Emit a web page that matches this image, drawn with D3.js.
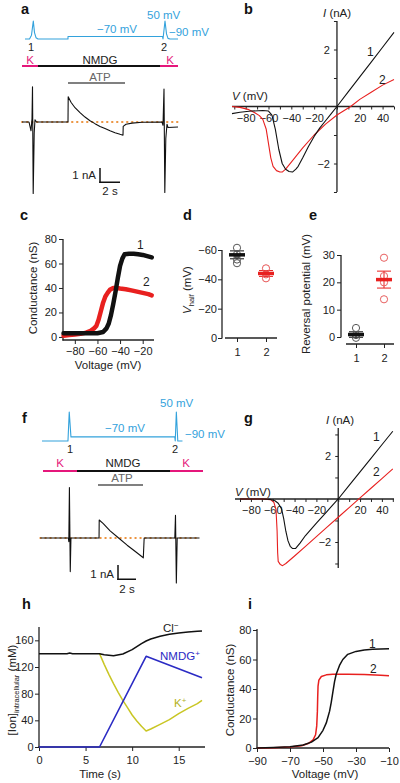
<!DOCTYPE html>
<html><head><meta charset="utf-8">
<script src="https://cdn.jsdelivr.net/npm/d3@7"></script>
<style>body{margin:0;background:#fff} svg{display:block;font-family:"Liberation Sans",Arial,sans-serif}</style>
</head><body><script>
// ---------- DATA ----------
// panel a: voltage protocol [time s, mV] and current [time s, nA]
const traceA_V = [[0.3,-90],[0.75,-90],[0.95,-60],[1.13,50],[1.25,-40],[1.4,-80],[1.6,-90],[4.6,-90],[4.6,-70],[14.05,-70],[14.1,-90],[14.3,50],[14.45,-50],[14.6,-85],[14.8,-90],[15.6,-90]];
const traceA_I = [[0,0],[0.7,0],[0.8,-0.4],[0.9,-0.8],[1.0,0.3],[1.05,3.2],[1.12,-6.5],[1.22,-1.0],[1.3,0.2],[1.45,0],[4.6,0],[4.62,2.3],[4.9,1.8],[5.3,1.3],[5.8,0.85],[6.3,0.45],[6.8,0.12],[7.3,-0.15],[7.8,-0.4],[8.3,-0.6],[8.8,-0.8],[9.3,-0.97],[9.8,-1.12],[10.1,-1.2],[10.12,-0.4],[10.4,-0.2],[11,-0.1],[12,-0.02],[14.0,0],[14.1,-0.3],[14.2,3.0],[14.28,-6.4],[14.38,-1.5],[14.5,-0.2],[14.6,-0.5],[15.6,-0.45]];
// panel f
const traceF_V = [[0,-90],[3.05,-90],[3.2,50],[3.4,-70],[15.6,-70],[15.65,-90],[15.78,50],[15.95,-90],[16.5,-90]];
const traceF_I = [[-0.2,0],[3.1,0],[3.15,-0.3],[3.22,4.2],[3.32,-2.8],[3.4,0],[6.7,0],[6.72,1.5],[7.2,1.2],[8,0.6],[9,0.0],[10,-0.6],[11,-1.15],[11.9,-1.65],[12.0,0],[15.6,0],[15.68,1.9],[15.78,-3.75],[15.88,0],[18.5,0]];
// panel b: I-V [mV, nA]
const ivB_1 = [[-92,-0.25],[-85,-0.2],[-75,-0.16],[-65,-0.14],[-60,-0.16],[-57,-0.3],[-54,-0.8],[-51,-1.5],[-48,-2.0],[-45,-2.2],[-42,-2.28],[-39,-2.3],[-36,-2.2],[-34,-2.1],[-30,-1.8],[-25,-1.4],[-20,-1.05],[-15,-0.75],[-10,-0.5],[-5,-0.25],[0,0],[10,0.52],[20,1.04],[30,1.56],[40,2.08],[50,2.6]];
const ivB_2 = [[-92,0],[-85,-0.03],[-78,-0.1],[-72,-0.22],[-68,-0.32],[-65,-0.45],[-62,-0.8],[-60,-1.3],[-58,-1.8],[-56,-2.1],[-53,-2.25],[-50,-2.3],[-48,-2.3],[-45,-2.2],[-40,-1.95],[-30,-1.45],[-20,-1.0],[-10,-0.62],[0,-0.3],[12,0],[20,0.25],[30,0.5],[40,0.75],[50,0.95]];
const bTickLabels = [-80,-60,-40,-20,20,40];
// panel g: I-V model
const ivG_1 = [[-90,0],[-70,0],[-62,-0.02],[-58,-0.08],[-55,-0.2],[-52,-0.45],[-50,-0.9],[-48,-1.5],[-46,-1.95],[-44,-2.2],[-42,-2.3],[-39,-2.3],[-35,-2.05],[-30,-1.7],[-20,-1.12],[-10,-0.56],[0,0],[10,0.63],[20,1.26],[30,1.89],[40,2.52],[50,3.15]];
const ivG_2 = [[-90,0],[-70,0],[-62,-0.03],[-59,-0.15],[-57,-0.5],[-56,-1.5],[-55.5,-2.5],[-55,-2.9],[-53,-3.05],[-51,-3.1],[-48,-3.0],[-40,-2.65],[-30,-2.2],[-20,-1.75],[-10,-1.3],[0,-0.85],[10,-0.4],[20,0.05],[30,0.5],[40,0.95],[50,1.4]];
// panel c: conductance [mV, nS]
const gC_1 = [[-90,3],[-80,3],[-70,3],[-60,3],[-55,4],[-52,7],[-50,11],[-48,18],[-46,27],[-44,37],[-42,48],[-40,58],[-38,64],[-36,67.5],[-32,68],[-28,68],[-24,67.5],[-20,67],[-16,66],[-12,65]];
const gC_2 = [[-90,1],[-85,1.5],[-80,2],[-75,2.5],[-70,3.5],[-66,5],[-63,7],[-61,9],[-59,14],[-57,21],[-55,28],[-53,33],[-51,36],[-49,38.5],[-46,40],[-43,40],[-40,39.5],[-35,39],[-30,38],[-25,37],[-20,36],[-15,35],[-12,34]];
// panel d: V_half (mV)
const groups = ["1","2"];
const vhalf_1 = [-61.5,-57,-53.5,-51];
const vhalf_2 = [-47.5,-43.4,-40.7];
const vhalfMean = [-56.7,-44];
const vhalfSem = [2.7,2];
// panel e: reversal potential (mV)
const erev_1 = [3.3,0.7,-0.3];
const erev_2 = [29,22.3,20,13.8];
const erevMean = [0.9,21];
const erevSem = [1,3.1];
// panel h: [time s, mM]
const hCl = [[0,140],[3,140],[3.3,141],[3.6,140],[6.5,140],[7,138.5],[8,137],[9,139.5],[10,146],[11,155],[11.5,159],[12,162],[13,166],[14,169],[15,171],[16,172.5],[17,173.5],[17.5,174]];
const hNMDG = [[0,0],[6.5,0],[11.5,136],[17.5,104]];
const hK = [[6.5,140],[7,124],[7.5,109],[8,95],[8.5,82],[9,70],[9.5,59],[10,48],[10.5,39],[11,31],[11.5,24],[12,27],[13,34],[14,41],[15,50],[16,58],[17,65],[17.5,70]];
// panel i: model conductance [mV, nS]
const gI_1 = [[-90,0],[-80,0.3],[-70,0.8],[-62,2],[-57,4],[-53,7],[-50,12],[-48,17],[-46,25],[-45,31],[-44,38],[-43,45],[-42,50],[-40,56],[-38,60],[-35,63.5],[-30,65.5],[-25,66.5],[-20,67],[-10,67.3]];
const gI_2 = [[-90,0],[-80,0.2],[-70,0.6],[-63,1.5],[-59,3],[-56,5.5],[-54.5,9],[-53.8,15],[-53.4,25],[-53.2,35],[-53,42],[-52.5,46],[-51,48.5],[-48,49.6],[-44,50],[-35,50],[-25,49.8],[-15,49.3],[-10,49]];

// ---------- STYLE ----------
const BLUE="#33a2dc", MAG="#e5177b", ORANGE="#ec9440", RED="#e8201f", DARK="#222", GRAY="#808080";
const NBLUE="#2b2bc4", YEL="#c9c624";
const FONT='"Liberation Sans",Arial,sans-serif';

const svg = d3.select("body").append("svg").attr("width",400).attr("height",783);
svg.append("rect").attr("width",400).attr("height",783).attr("fill","#fff");

function txt(x,y,s,o={}){
  return svg.append("text").attr("x",x).attr("y",y).text(s)
    .attr("font-size",o.size||11.5).attr("fill",o.fill||DARK)
    .attr("text-anchor",o.anchor||"start").attr("font-weight",o.weight||"normal")
    .attr("font-style",o.style||"normal").attr("font-family",FONT);
}
function hline(x1,x2,y,color,w,dash){
  const l=svg.append("line").attr("x1",x1).attr("x2",x2).attr("y1",y).attr("y2",y).attr("stroke",color).attr("stroke-width",w||1.2);
  if(dash) l.attr("stroke-dasharray",dash).attr("stroke-linecap","round");
  return l;
}
function vline(x,y1,y2,color,w){
  return svg.append("line").attr("x1",x).attr("x2",x).attr("y1",y1).attr("y2",y2).attr("stroke",color).attr("stroke-width",w||1.2);
}
function path(data,x,y,color,w,extra){
  const p=svg.append("path").attr("d",d3.line().x(d=>x(d[0])).y(d=>y(d[1]))(data))
    .attr("fill","none").attr("stroke",color).attr("stroke-width",w||1).attr("stroke-linejoin","round");
  if(extra) p.attr("stroke-linecap","round");
  return p;
}
function styleAxis(g){
  g.attr("font-family",FONT).attr("font-size",11);
  g.select(".domain").remove();
  g.selectAll(".tick line").attr("stroke",DARK).attr("stroke-width",1);
  g.selectAll(".tick text").attr("fill",DARK);
}
function rotLabel(x,y,s){
  return svg.append("text").attr("transform",`translate(${x},${y}) rotate(-90)`)
    .attr("text-anchor","middle").attr("font-size",11.5).attr("fill",DARK).attr("font-family",FONT).text(s);
}
const fmt = d3.format("d");

// panel letters
[["a",21,14],["b",244,14],["c",20,220],["d",183,220],["e",309,220],["f",22,423],["g",244,423],["h",22,609],["i",248,609]]
  .forEach(([s,x,y])=>txt(x,y,s,{size:14.5,weight:"bold",fill:"#111"}));

// ---------- PANEL A ----------
{
  const x = d3.scaleLinear([0,15.6],[22,178]);
  const yV = d3.scaleLinear([-90,50],[39,21]);
  const yI = d3.scaleLinear([0,1],[122,111]);
  path(traceA_V,x,yV,BLUE,1.1);
  txt(147,19,"50 mV",{fill:BLUE});
  txt(97,33,"\u221270 mV",{fill:BLUE});
  txt(169,36,"\u221290 mV",{fill:BLUE});
  txt(31,51,"1",{anchor:"middle",size:11}); txt(164,51,"2",{anchor:"middle",size:11});
  hline(22,38,66,MAG,2); hline(38,160,66,"#111",2); hline(160,178,66,MAG,2);
  txt(30,64,"K",{fill:MAG,anchor:"middle"}); txt(100,64,"NMDG",{anchor:"middle"}); txt(170,64,"K",{fill:MAG,anchor:"middle"});
  hline(68,125,83,GRAY,2); txt(100,81,"ATP",{fill:"#666",anchor:"middle"});
  hline(x(0),x(15.6),yI(0),ORANGE,2,"0.5,4.5");
  path(traceA_I,x,yI,"#111",1.1);
  // scale bar
  vline(100,168,183,"#111",1.5); hline(99.25,120,182.25,"#111",1.5);
  txt(96,179,"1 nA",{anchor:"end"}); txt(110,195,"2 s",{anchor:"middle"});
}

// ---------- PANEL F ----------
{
  const x = d3.scaleLinear([0,18.5],[42,199.5]);
  const yV = d3.scaleLinear([-90,50],[441,412]);
  const yI = d3.scaleLinear([0,1],[538,526]);
  path(traceF_V,x,yV,BLUE,1.1);
  txt(160,407,"50 mV",{fill:BLUE});
  txt(105,432,"\u221270 mV",{fill:BLUE});
  txt(185,438,"\u221290 mV",{fill:BLUE});
  txt(70,453,"1",{anchor:"middle",size:11}); txt(175,453,"2",{anchor:"middle",size:11});
  hline(43,77,471,MAG,2); hline(77,170,471,"#111",2); hline(170,203,471,MAG,2);
  txt(60,467,"K",{fill:MAG,anchor:"middle"}); txt(123,467,"NMDG",{anchor:"middle"}); txt(186,467,"K",{fill:MAG,anchor:"middle"});
  hline(98,143,485,GRAY,2); txt(122,482,"ATP",{fill:"#666",anchor:"middle"});
  hline(x(-0.2),x(18.5),yI(0),ORANGE,2,"0.5,4.5");
  path(traceF_I,x,yI,"#111",1.1);
  vline(118,565,580,"#111",1.5); hline(117.25,136,579.25,"#111",1.5);
  txt(114,578,"1 nA",{anchor:"end"}); txt(127,593,"2 s",{anchor:"middle"});
}

// ---------- I-V panels (b, g) ----------
function ivPanel(xs, ys, xl, yl, c1, c2, lab1, lab2, ttl){
  const x0 = xs(0), y0 = ys(0);
  hline(xl[0],xl[1],y0,DARK,1.3); vline(x0,yl[0],yl[1],DARK,1.3);
  const gx = svg.append("g").attr("transform",`translate(0,${y0})`)
    .call(d3.axisBottom(xs).tickValues(d3.range(-90,51,10)).tickSize(3).tickPadding(4.5)
      .tickFormat(d=>bTickLabels.includes(d)?fmt(d):""));
  styleAxis(gx);
  const gy = svg.append("g").attr("transform",`translate(${x0},0)`)
    .call(d3.axisLeft(ys).tickValues([-3,-2,-1,1,2,3]).tickSize(3).tickPadding(4)
      .tickFormat(d=>(d===2||d===-2)?fmt(d):""));
  styleAxis(gy);
  path(c2,xs,ys,RED,1.1);
  path(c1,xs,ys,"#111",1.1);
  txt(lab1[0],lab1[1],"1",{size:12}); txt(lab2[0],lab2[1],"2",{size:12});
  const t1 = txt(ttl[0],ttl[1],"",{}); t1.append("tspan").attr("font-style","italic").text("I"); t1.append("tspan").text(" (nA)");
  const t2 = txt(ttl[2],ttl[3],"",{}); t2.append("tspan").attr("font-style","italic").text("V"); t2.append("tspan").text(" (mV)");
}
ivPanel(d3.scaleLinear([-92,50],[232,394]), d3.scaleLinear([-3,3],[192,21]), [232,394],[21,192],
  ivB_1, ivB_2, [367,56],[379,84],[323,17,232,100]);
ivPanel(d3.scaleLinear([-90,50],[240,392.8]), d3.scaleLinear([-3.2,3.3],[567.8,428]), [235,394],[428,568],
  ivG_1, ivG_2, [373,441],[373,476],[326,424,235,496]);

// ---------- PANEL C ----------
{
  const x = d3.scaleLinear([-90,-10],[63.5,154]);
  const y = d3.scaleLinear([-2.5,80],[340,239]);
  vline(63,239,340.6,DARK,1.3); hline(62.4,154,340,DARK,1.3);
  styleAxis(svg.append("g").attr("transform","translate(63,0)").call(d3.axisLeft(y).tickValues([0,20,40,60,80]).tickSize(4).tickPadding(2)));
  styleAxis(svg.append("g").attr("transform","translate(0,340)").call(d3.axisBottom(x).tickValues([-80,-60,-40,-20]).tickSize(4).tickPadding(3.5)));
  path(gC_2,x,y,RED,4.5,true);
  path(gC_1,x,y,"#111",4.5,true);
  txt(137,249,"1",{size:12}); txt(143,286,"2",{size:12});
  txt(108,369,"Voltage (mV)",{anchor:"middle"});
  rotLabel(37,288,"Conductance (nS)");
}

// ---------- scatter panels (d, e) ----------
function dotPanel(x, y, vals, means, sems, colors, circColors){
  vals.forEach((arr,i)=>{
    const cx = x(groups[i]);
    vline(cx,y(means[i]-sems[i]),y(means[i]+sems[i]),colors[i],1);
    hline(cx-7,cx+7,y(means[i]-sems[i]),colors[i],1);
    hline(cx-7,cx+7,y(means[i]+sems[i]),colors[i],1);
    svg.selectAll(null).data(arr).enter().append("circle")
      .attr("cx",cx).attr("cy",d=>y(d)).attr("r",3.6)
      .attr("fill","none").attr("stroke",circColors[i]).attr("stroke-width",1);
    hline(cx-8,cx+8,y(means[i]),colors[i],3.5);
  });
}
{
  const y = d3.scaleLinear([0,-60],[338,250]);
  const x = d3.scalePoint(groups,[237,266]);
  vline(222,250,338.6,DARK,1.3); hline(225,277,338,DARK,1.3);
  styleAxis(svg.append("g").attr("transform","translate(222,0)").call(d3.axisLeft(y).tickValues([0,-20,-40,-60]).tickSize(4).tickPadding(1)));
  styleAxis(svg.append("g").attr("transform","translate(0,338)").call(d3.axisBottom(x).tickSize(4).tickPadding(6)));
  dotPanel(x,y,[vhalf_1,vhalf_2],vhalfMean,vhalfSem,["#111",RED],["#555","#e85555"]);
  const t = svg.append("text").attr("transform","translate(191,290) rotate(-90)").attr("text-anchor","middle")
    .attr("font-size",11.5).attr("fill",DARK).attr("font-family",FONT);
  t.append("tspan").attr("font-style","italic").text("V");
  t.append("tspan").attr("font-size",7.5).attr("dy",2.5).text("half");
  t.append("tspan").attr("dy",-2.5).text(" (mV)");
}
{
  const y = d3.scaleLinear([0,30],[337,255]);
  const x = d3.scalePoint(groups,[356,384]);
  vline(341,255,337.6,DARK,1.3); hline(346,394,344,DARK,1.3);
  styleAxis(svg.append("g").attr("transform","translate(341,0)").call(d3.axisLeft(y).tickValues([0,10,20,30]).tickSize(4).tickPadding(2)));
  styleAxis(svg.append("g").attr("transform","translate(0,344)").call(d3.axisBottom(x).tickSize(4).tickPadding(6)));
  dotPanel(x,y,[erev_1,erev_2],erevMean,erevSem,["#111",RED],["#555","#e86060"]);
  rotLabel(310,294,"Reversal potential (mV)");
}

// ---------- PANEL H ----------
{
  const x = d3.scaleLinear([0,17.5],[39,202]);
  const y = d3.scaleLinear([0,180],[747,627]);
  vline(39,627,747.6,DARK,1.3); hline(38.4,205,747,DARK,1.3);
  styleAxis(svg.append("g").attr("transform","translate(39,0)").call(d3.axisLeft(y).tickValues([0,40,80,120,160]).tickSize(4).tickPadding(1.5)));
  styleAxis(svg.append("g").attr("transform","translate(0,747)").call(d3.axisBottom(x).tickValues([0,5,10,15]).tickSize(4).tickPadding(5)));
  path(hK,x,y,YEL,1.5);
  path(hNMDG,x,y,NBLUE,1.6);
  path(hCl,x,y,"#111",1.5);
  const c = txt(163,632,"Cl",{}); c.append("tspan").attr("font-size",8).attr("dy",-4).text("\u2212");
  const n = txt(160,660,"NMDG",{fill:NBLUE}); n.append("tspan").attr("font-size",8).attr("dy",-4).text("+");
  const k = txt(174,707,"K",{fill:"#b5b21c"}); k.append("tspan").attr("font-size",8).attr("dy",-4).text("+");
  txt(100,778,"Time (s)",{anchor:"middle"});
  const t = svg.append("text").attr("transform","translate(16,690) rotate(-90)").attr("text-anchor","middle")
    .attr("font-size",11.5).attr("fill",DARK).attr("font-family",FONT);
  t.append("tspan").text("[Ion]");
  t.append("tspan").attr("font-size",7.5).attr("dy",2.5).text("intracellular");
  t.append("tspan").attr("dy",-2.5).text(" (mM)");
}

// ---------- PANEL I ----------
{
  const x = d3.scaleLinear([-90,-10],[257,389]);
  const y = d3.scaleLinear([0,80],[748,630]);
  vline(257,629,748.6,DARK,1.3); hline(256.4,389,748,DARK,1.3);
  styleAxis(svg.append("g").attr("transform","translate(257,0)").call(d3.axisLeft(y).tickValues([0,20,40,60,80]).tickSize(4).tickPadding(1.5)));
  styleAxis(svg.append("g").attr("transform","translate(0,748)").call(d3.axisBottom(x).tickValues([-90,-70,-50,-30,-10]).tickSize(4).tickPadding(5.5)));
  path(gI_2,x,y,RED,1.5);
  path(gI_1,x,y,"#111",1.5);
  txt(369,648,"1",{size:12}); txt(370,673,"2",{size:12});
  txt(325,778,"Voltage (mV)",{anchor:"middle"});
  rotLabel(234,690,"Conductance (nS)");
}
</script></body></html>
